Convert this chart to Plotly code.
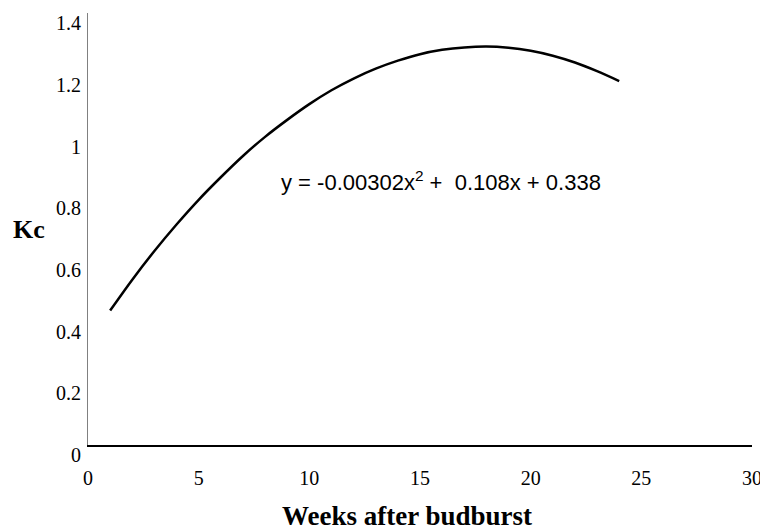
import plotly.graph_objects as go

# Data
weeks = list(range(1, 25))
kc = [0.436, 0.536, 0.629, 0.715, 0.795, 0.868, 0.937, 0.999, 1.054, 1.105, 1.150, 1.188,
      1.220, 1.246, 1.267, 1.281, 1.289, 1.292, 1.288, 1.278, 1.262, 1.240, 1.212, 1.180]

x_ticks = [0, 5, 10, 15, 20, 25, 30]
y_ticks = [0, 0.2, 0.4, 0.6, 0.8, 1.0, 1.2, 1.4]
y_ticktext = ["0", "0.2", "0.4", "0.6", "0.8", "1", "1.2", "1.4"]

equation = "y = -0.00302x<sup>2</sup> +\u00a0\u00a00.108x + 0.338"
x_title = "Weeks after budburst"
y_title = "Kc"

fig = go.Figure()
fig.add_trace(go.Scatter(
    x=weeks, y=kc, mode="lines",
    line=dict(color="black", width=2.5, shape="spline", smoothing=0.8),
    showlegend=False, hoverinfo="skip",
))

serif = "Liberation Serif, Times New Roman, serif"

# page is offset by the 8px default body margin
W, H = 760, 523
L, R, T, B = 80, 16, 5, 86
pw, ph = W - L - R, H - T - B

fig.update_layout(
    width=W, height=H,
    margin=dict(l=L, r=R, t=T, b=B),
    paper_bgcolor="white", plot_bgcolor="white",
    font=dict(family=serif, size=20, color="black"),
    xaxis=dict(
        range=[0, 30], tickvals=x_ticks, showgrid=False, zeroline=False,
        showline=True, linecolor="black", linewidth=2, automargin=False,
        ticks="", ticklabelstandoff=14, ticklabeloverflow="allow",
        tickfont=dict(family=serif, size=20, color="black"),
    ),
    yaxis=dict(
        range=[0, 1.4005], tickvals=y_ticks, ticktext=y_ticktext,
        showgrid=False, zeroline=False, automargin=False,
        showline=True, linecolor="#808080", linewidth=1,
        ticks="", ticklabelshift=10, ticklabelstandoff=2, ticklabeloverflow="allow",
        tickfont=dict(family=serif, size=20, color="black"),
    ),
    annotations=[
        dict(text=equation, xref="x", yref="y", x=8.65, y=0.855,
             xanchor="left", yanchor="middle", showarrow=False,
             font=dict(family="Liberation Sans, Arial, sans-serif", size=22, color="black")),
        dict(text="<b>" + x_title + "</b>", xref="paper", yref="paper",
             x=(407 - 8 - L) / pw, y=-(516 - 445) / ph,
             xanchor="center", yanchor="middle", showarrow=False,
             font=dict(family=serif, size=27, color="black")),
        dict(text="<b>" + y_title + "</b>", xref="paper", yref="paper",
             x=(29 - 8 - L) / pw, y=(445 - 229) / ph,
             xanchor="center", yanchor="middle", showarrow=False,
             font=dict(family=serif, size=26, color="black")),
    ],
)

fig.write_html("out.html")
